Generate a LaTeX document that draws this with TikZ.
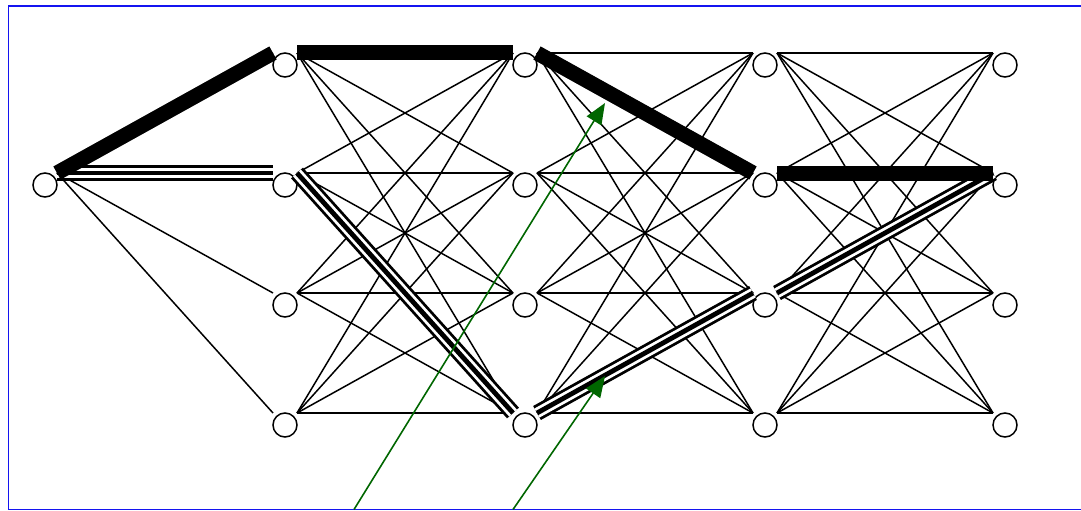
\documentclass[tikz,border=0pt]{standalone}
\usetikzlibrary{calc,arrows.meta}
\definecolor{arrowgreen}{RGB}{0,102,0}
\definecolor{frameblue}{RGB}{20,20,240}
\begin{document}
\begin{tikzpicture}[x=1pt,y=-1pt,
  neuron/.style={circle,draw,line width=1.5pt,minimum size=24pt,inner sep=0pt},
  wire/.style={line width=1.5pt},
  heavy/.style={line width=15pt},
  tripleouter/.style={line width=2.8pt,double=white,double distance=10.4pt},
  triplecore/.style={line width=4.8pt},
  flow/.style={draw=arrowgreen,line width=1.6pt,-{Triangle[length=21pt,width=17pt]},arrowgreen}]
\useasboundingbox (0,0) rectangle (1081,511);
\draw[frameblue,line width=1.5pt] (8.5,6) rectangle (1095,509.5);
% nodes
\node[neuron] (n0) at (45,185) {};
\coordinate (n0o) at ($(n0)+(12,-12)$);
\foreach \c in {1,...,4}{
  \foreach \r in {1,...,4}{
    \pgfmathtruncatemacro{\xx}{45+240*\c}
    \pgfmathtruncatemacro{\yy}{65+120*(\r-1)}
    \node[neuron] (n\c\r) at (\xx,\yy) {};
    \coordinate (n\c\r i) at ($(n\c\r)+(-12,-12)$);
    \coordinate (n\c\r o) at ($(n\c\r)+(12,-12)$);
  }
}
% thin wires
\foreach \s in {1,...,4}{ \draw[wire] (n0o) -- (n1\s i); }
\foreach \c/\d in {1/2,2/3,3/4}{
  \foreach \r in {1,...,4}{
    \foreach \s in {1,...,4}{
      \draw[wire] (n\c\r o) -- (n\d\s i);
    }
  }
}
% triple edges
\foreach \a/\b in {n0o/n12i,n12o/n24i,n24o/n33i,n33o/n42i}{
  \draw[tripleouter] (\a) -- (\b);
  \draw[triplecore] (\a) -- (\b);
}
% heavy edges
\foreach \a/\b in {n0o/n11i,n11o/n21i,n21o/n32i,n32o/n42i}{
  \draw[heavy] (\a) -- (\b);
}
% green arrows
\coordinate (g1s) at (354,509.5);
\coordinate (g1e) at (605,103);
\coordinate (g2s) at (513,509.5);
\coordinate (g2e) at (605,376);
\draw[flow] (g1s) -- (g1e);
\draw[flow] (g2s) -- (g2e);
\end{tikzpicture}
\end{document}
